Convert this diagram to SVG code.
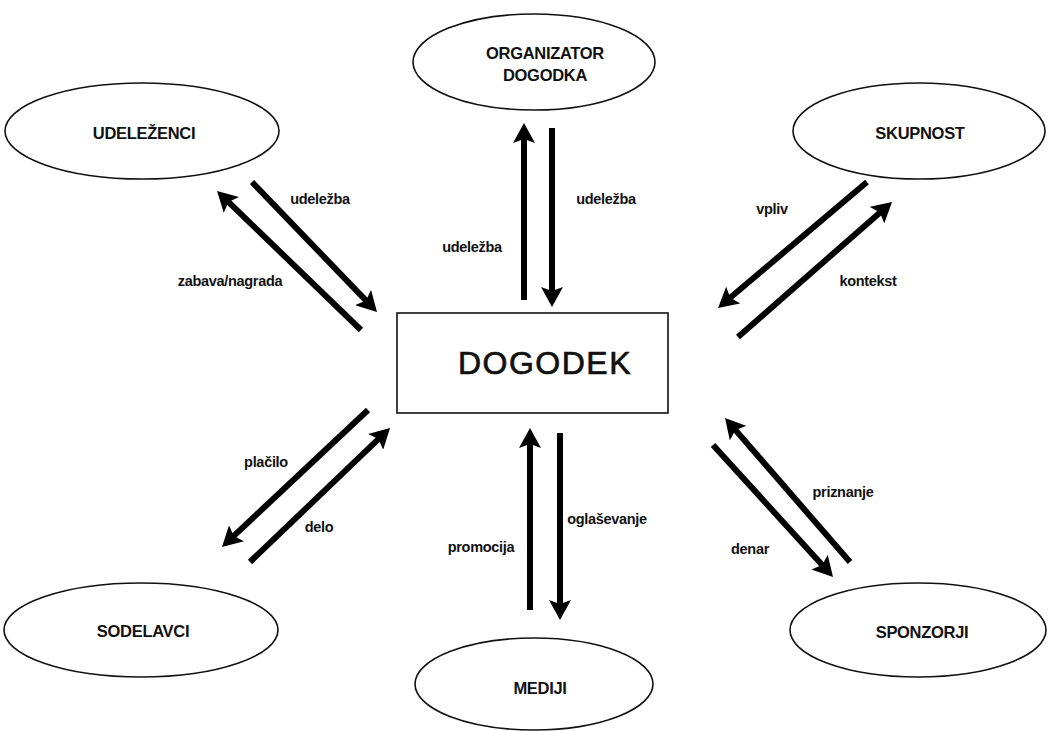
<svg xmlns="http://www.w3.org/2000/svg" width="1050" height="731" viewBox="0 0 1050 731">
<style>
.n{fill:#fff;stroke:#111;stroke-width:1.6}
.t{font-family:"Liberation Sans",Arial,sans-serif;font-weight:bold;font-size:16.5px;fill:#111;text-anchor:middle;letter-spacing:-0.3px}
.big{font-family:"Liberation Sans",Arial,sans-serif;font-size:32px;fill:#111;stroke:#111;stroke-width:0.7;text-anchor:middle;letter-spacing:1.5px}
.a{stroke:#000;stroke-width:6;fill:none;marker-end:url(#h)}
.l{font-family:"Liberation Sans",Arial,sans-serif;font-weight:bold;font-size:14.5px;fill:#111;text-anchor:middle;letter-spacing:-0.3px}
</style>
<defs>
<marker id="h" markerUnits="userSpaceOnUse" markerWidth="22" markerHeight="22" refX="6" refY="11" orient="auto">
<path d="M0,0 L20,11 L0,22 L4,11 z" fill="#000"/>
</marker>
</defs>
<rect width="1050" height="731" fill="#fff"/>
<g id="udelezenci"><ellipse class="n" cx="142" cy="131" rx="137" ry="48"/><text class="t" x="144" y="139">UDELEŽENCI</text></g>
<g id="organizator"><ellipse class="n" cx="534" cy="62" rx="121" ry="48"/><text class="t" x="545" y="59">ORGANIZATOR</text><text class="t" x="545" y="81">DOGODKA</text></g>
<g id="skupnost"><ellipse class="n" cx="919" cy="131" rx="126" ry="48"/><text class="t" x="920" y="139">SKUPNOST</text></g>
<g id="dogodek"><rect class="n" x="397" y="313" width="271" height="100"/><text class="big" x="545" y="374">DOGODEK</text></g>
<g id="sodelavci"><ellipse class="n" cx="141" cy="630" rx="137" ry="47"/><text class="t" x="143" y="637">SODELAVCI</text></g>
<g id="mediji"><ellipse class="n" cx="534" cy="684" rx="119" ry="46"/><text class="t" x="540" y="694">MEDIJI</text></g>
<g id="sponzorji"><ellipse class="n" cx="918" cy="630" rx="128" ry="47"/><text class="t" x="922" y="638">SPONZORJI</text></g>
<g id="connectors">
<line class="a" x1="361" y1="330" x2="227.1" y2="200.7"/>
<line class="a" x1="252" y1="182" x2="367.3" y2="301.9"/>
<line class="a" x1="524" y1="300" x2="524" y2="137"/>
<line class="a" x1="552" y1="128" x2="552" y2="293"/>
<line class="a" x1="867" y1="182" x2="728.7" y2="299"/>
<line class="a" x1="738" y1="337" x2="881.5" y2="211.2"/>
<line class="a" x1="368" y1="410" x2="232.2" y2="537.4"/>
<line class="a" x1="250" y1="562" x2="379.9" y2="437.7"/>
<line class="a" x1="530" y1="610" x2="530" y2="442"/>
<line class="a" x1="560" y1="433" x2="560" y2="606"/>
<line class="a" x1="850" y1="562" x2="734.2" y2="428.6"/>
<line class="a" x1="713" y1="445" x2="823.6" y2="566.6"/>
<text class="l" x="320" y="204">udeležba</text>
<text class="l" x="230" y="286">zabava/nagrada</text>
<text class="l" x="472" y="252">udeležba</text>
<text class="l" x="606" y="204">udeležba</text>
<text class="l" x="772" y="214">vpliv</text>
<text class="l" x="868" y="286">kontekst</text>
<text class="l" x="266" y="467">plačilo</text>
<text class="l" x="319" y="532">delo</text>
<text class="l" x="481" y="552">promocija</text>
<text class="l" x="607" y="524">oglaševanje</text>
<text class="l" x="843" y="497">priznanje</text>
<text class="l" x="750" y="554">denar</text>
</g>
</svg>
